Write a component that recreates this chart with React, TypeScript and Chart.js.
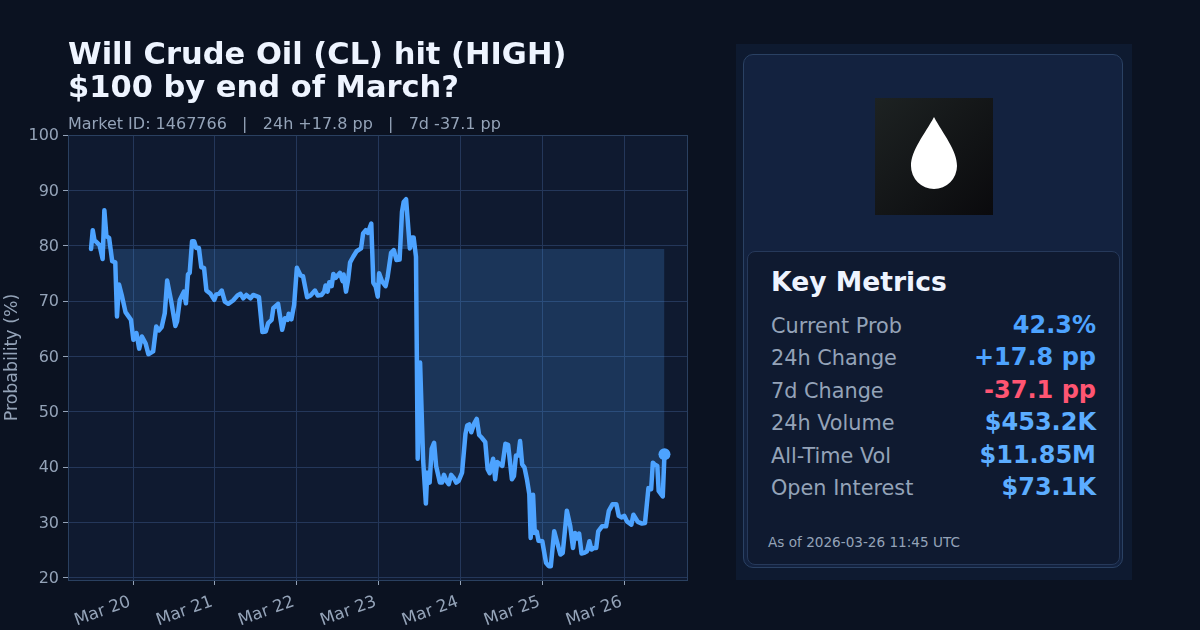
import React, { useEffect, useRef } from "react";
import { Chart, registerables } from "chart.js";

Chart.register(...registerables);

const hours = [
    -12.3, -11.8, -11.3, -10.6, -9.8, -8.9, -8.4, -7.8, -7.0, -6.1, -5.2, -4.7, -4.1, -3.2, -2.2, -0.6,
    0.1, 1.0, 1.8, 2.6, 3.7, 4.5, 5.9, 6.8, 7.6, 8.4, 9.3, 10.0, 11.2, 12.4, 12.9, 13.7, 14.9, 15.5,
    16.1, 16.6, 17.3, 17.9, 18.5, 19.3, 20.0, 20.8, 21.5, 22.7, 23.8, 24.4, 25.2, 26.0, 26.9, 27.9,
    29.3, 30.6, 31.5, 32.3, 33.2, 34.4, 35.2, 36.9, 37.9, 38.9, 39.6, 40.6, 41.1, 42.5, 43.7, 44.5,
    45.3, 45.6, 46.4, 47.2, 48.0, 49.1, 49.8, 51.0, 52.0, 53.3, 54.1, 55.2, 56.0, 56.4, 57.0, 57.5,
    58.2, 58.7, 59.4, 60.6, 61.4, 61.7, 62.4, 63.0, 63.6, 64.5, 65.5, 66.8, 67.4, 68.2, 68.8, 69.8,
    70.4, 71.1, 71.7, 72.1, 73.0, 74.0, 74.6, 75.6, 76.4, 77.2, 78.1, 78.8, 79.3, 80.0, 81.1, 81.7,
    82.2, 82.9, 83.4, 84.1, 85.0, 85.8, 86.2, 86.9, 87.5, 88.2, 88.8, 89.9, 90.5, 91.1, 91.8, 92.5,
    93.2, 94.0, 94.7, 95.4, 96.4, 97.4, 97.9, 98.5, 99.1, 99.9, 100.7, 101.4, 102.2, 103.2, 103.9,
    104.5, 105.5, 106.1, 106.7, 108.2, 109.1, 109.9, 111.0, 111.6, 112.2, 112.9, 113.4, 114.0, 114.7,
    115.4, 116.1, 116.5, 117.2, 117.7, 118.3, 118.8, 119.9, 121.0, 121.8, 122.4, 123.4, 125.2, 125.9,
    127.1, 128.1, 128.9, 129.5, 130.0, 130.7, 131.4, 132.2, 133.0, 133.7, 134.3, 135.1, 135.7, 136.3,
    137.4, 138.6, 139.4, 140.5, 141.6, 142.3, 143.2, 143.9, 144.7, 146.0, 146.6, 147.9, 149.1, 150.0,
    151.0, 151.8, 152.3, 152.8, 153.6, 154.0, 155.2, 155.7,
];

const probs = [
    79.4, 82.8, 81.0, 80.6, 80.1, 77.6, 86.4, 81.7, 81.4, 77.2, 77.0, 67.2, 73.0, 70.8, 68.0, 66.6,
    63.0, 64.2, 61.4, 63.6, 62.3, 60.4, 60.9, 65.4, 64.7, 65.3, 67.8, 73.7, 69.9, 65.5, 66.3, 70.2, 71.7, 69.6,
    74.8, 75.1, 80.8, 80.8, 79.6, 79.6, 76.1, 76.0, 71.9, 71.3, 70.2, 71.2, 71.3, 71.9, 69.9, 69.5,
    70.1, 71.0, 71.3, 70.5, 71.1, 70.5, 71.1, 70.7, 64.4, 64.5, 66.0, 66.6, 68.7, 69.5, 64.8, 66.9,
    66.6, 67.7, 66.7, 69.3, 76.0, 74.6, 74.5, 70.7, 71.0, 71.9, 71.0, 71.1, 71.7, 72.8, 71.7, 73.4,
    72.7, 74.9, 74.2, 75.1, 73.6, 74.8, 71.7, 73.8, 77.0, 78.0, 79.0, 79.5, 82.2, 82.8, 82.3, 84.0,
    73.3, 72.6, 70.8, 75.0, 73.5, 72.7, 74.4, 78.7, 79.2, 77.4, 77.5, 86.1, 87.9, 88.4, 79.5, 81.5,
    81.5, 78.0, 41.5, 58.9, 41.2, 33.4, 39.0, 37.2, 43.3, 44.4, 40.2, 37.2, 37.2, 38.6, 37.5, 36.9,
    38.6, 38.0, 37.2, 37.5, 39.0, 46.0, 47.5, 47.7, 46.3, 47.8, 48.7, 45.8, 45.3, 44.5, 39.6,
    38.9, 41.5, 37.8, 40.9, 40.2, 44.2, 44.0, 37.8, 38.4, 42.1, 42.1, 44.7, 40.5, 39.9,
    37.8, 35.1, 27.2, 35.0, 28.1, 28.3, 26.7, 26.6, 22.7, 22.1, 22.1, 28.4, 24.2, 24.5,
    32.1, 29.3, 25.4, 28.1, 27.1, 28.0, 24.4, 24.5, 24.8, 26.6, 25.1, 25.4, 25.4, 28.4,
    29.3, 29.3, 32.1, 33.3, 33.3, 31.2, 30.9, 31.2, 30.2, 29.6, 31.4, 30.1, 29.8, 29.9,
    36.2, 36.0, 40.8, 40.5, 40.2, 35.7, 34.7, 42.3,
];

const tickHours = [0, 24, 48, 72, 96, 120, 144];
const tickLabels = ["Mar 20", "Mar 21", "Mar 22", "Mar 23", "Mar 24", "Mar 25", "Mar 26"];
const yTicks = [20, 30, 40, 50, 60, 70, 80, 90, 100];

const metricLabels = ["Current Prob", "24h Change", "7d Change", "24h Volume", "All-Time Vol", "Open Interest"];
const metricValues = ["42.3%", "+17.8 pp", "-37.1 pp", "$453.2K", "$11.85M", "$73.1K"];
const metricColors = ["#4da3ff", "#4da3ff", "#ff5572", "#5cadff", "#5cadff", "#5cadff"];

const FONT = '"DejaVu Sans", sans-serif';
const LINE = "#4da3ff";
const MUTED = "#94a3b8";
const GRID = "#24375a";

const plotFrame = {
    id: "plotFrame",
    beforeDraw(chart: Chart) {
        const { ctx, chartArea: a } = chart;
        ctx.save();
        ctx.fillStyle = "#0f1a30";
        ctx.fillRect(a.left, a.top, a.right - a.left, a.bottom - a.top);
        ctx.restore();
    },
    afterDatasetsDraw(chart: Chart) {
        const { ctx, chartArea: a } = chart;
        ctx.save();
        ctx.strokeStyle = "#2a4060";
        ctx.lineWidth = 1;
        ctx.strokeRect(a.left + 0.5, a.top + 0.5, a.right - a.left, a.bottom - a.top);
        ctx.restore();
    },
};

function ProbChart() {
    const ref = useRef<HTMLCanvasElement | null>(null);

    useEffect(() => {
        if (!ref.current) return;

        const last = probs.length - 1;
        const chart = new Chart(ref.current, {
            type: "line",
            data: {
                datasets: [
                    {
                        data: hours.map((h, i) => ({ x: h, y: probs[i] })),
                        borderColor: LINE,
                        borderWidth: 4.5,
                        borderJoinStyle: "round",
                        borderCapStyle: "round",
                        backgroundColor: "rgba(77,163,255,0.2)",
                        fill: { value: probs[0] },
                        tension: 0,
                        pointRadius: (c: any) => (c.dataIndex === last ? 6 : 0),
                        pointBackgroundColor: LINE,
                        pointBorderWidth: 0,
                    },
                ],
            },
            options: {
                animation: false,
                responsive: false,
                devicePixelRatio: 1,
                layout: { padding: { top: 135, right: 0, left: 0, bottom: 0 } },
                plugins: {
                    legend: { display: false },
                    tooltip: { enabled: false },
                },
                scales: {
                    x: {
                        type: "linear",
                        min: -19.05,
                        max: 162.3,
                        afterFit: (s: any) => {
                            s.height = 50;
                            s.paddingRight = 0;
                            s.paddingLeft = 0;
                        },
                        afterBuildTicks: (s: any) => {
                            s.ticks = tickHours.map((v) => ({ value: v }));
                        },
                        border: { display: false },
                        grid: { color: GRID, lineWidth: 1, tickColor: MUTED, tickLength: 5 },
                        ticks: {
                            autoSkip: false,
                            minRotation: 20,
                            maxRotation: 20,
                            padding: 7,
                            labelOffset: -3,
                            color: MUTED,
                            font: { family: FONT, size: 16.8 },
                            callback: (v: any) => tickLabels[tickHours.indexOf(Number(v))],
                        },
                    },
                    y: {
                        min: 19.6,
                        max: 100,
                        afterFit: (s: any) => {
                            s.width = 68;
                        },
                        afterBuildTicks: (s: any) => {
                            s.ticks = yTicks.map((v) => ({ value: v }));
                        },
                        border: { display: false },
                        grid: { color: GRID, lineWidth: 1, tickColor: MUTED, tickLength: 5 },
                        ticks: {
                            padding: 4,
                            labelOffset: 1,
                            color: MUTED,
                            font: { family: FONT, size: 16 },
                        },
                        title: {
                            display: true,
                            text: "Probability (%)",
                            color: MUTED,
                            padding: { top: 2, bottom: 0 },
                            font: { family: FONT, size: 17.4 },
                        },
                    },
                },
            },
            plugins: [plotFrame],
        });

        return () => chart.destroy();
    }, []);

    return (
        <canvas
            ref={ref}
            width={693}
            height={630}
            style={{ position: "absolute", left: 0, top: 0, width: 693, height: 630 }}
        />
    );
}

function MetricsPanel() {
    return (
        <>
            <div style={{ position: "absolute", left: 736, top: 44, width: 396, height: 536, background: "#0e1a30" }} />
            <div
                style={{
                    position: "absolute",
                    left: 743,
                    top: 54,
                    width: 378,
                    height: 512,
                    background: "#13223f",
                    border: "1.5px solid #2a4163",
                    borderRadius: 10,
                }}
            />
            <div
                style={{
                    position: "absolute",
                    left: 875,
                    top: 98,
                    width: 118,
                    height: 117,
                    background: "linear-gradient(135deg, #1d2222, #0a0a0d)",
                }}
            >
                <svg width={118} height={117} style={{ display: "block" }}>
                    <path d="M59 19 C50 36 36 52 36 68 A23 23 0 0 0 82 68 C82 52 68 36 59 19 Z" fill="#fff" />
                </svg>
            </div>
            <div
                style={{
                    position: "absolute",
                    left: 747,
                    top: 251,
                    width: 371,
                    height: 312,
                    background: "#0f1a30",
                    border: "1.5px solid #26395a",
                    borderRadius: 8,
                }}
            />
            <div
                style={{
                    position: "absolute",
                    left: 771,
                    top: 266,
                    fontSize: 26.6,
                    lineHeight: "32px",
                    fontWeight: 700,
                    color: "#eef4ff",
                }}
            >
                Key Metrics
            </div>
            {metricLabels.map((label, i) => (
                <React.Fragment key={label}>
                    <div
                        style={{
                            position: "absolute",
                            left: 771,
                            top: 311 + i * 32.4,
                            fontSize: 20.8,
                            lineHeight: "30px",
                            color: "#94a3b8",
                        }}
                    >
                        {label}
                    </div>
                    <div
                        style={{
                            position: "absolute",
                            right: 104,
                            top: 310 + i * 32.4,
                            fontSize: 24,
                            lineHeight: "30px",
                            fontWeight: 700,
                            color: metricColors[i],
                        }}
                    >
                        {metricValues[i]}
                    </div>
                </React.Fragment>
            ))}
            <div
                style={{
                    position: "absolute",
                    left: 768,
                    top: 533,
                    fontSize: 13.6,
                    lineHeight: "18px",
                    color: "#94a3b8",
                }}
            >
                As of 2026-03-26 11:45 UTC
            </div>
        </>
    );
}

export default function App() {
    return (
        <div
            style={{
                position: "absolute",
                left: 0,
                top: 0,
                width: 1200,
                height: 630,
                overflow: "hidden",
                background: "#0b1221",
                fontFamily: FONT,
            }}
        >
            <style>{"body{margin:0}"}</style>
            <ProbChart />
            <div
                style={{
                    position: "absolute",
                    left: 68,
                    top: 37,
                    fontSize: 30.5,
                    lineHeight: "33px",
                    fontWeight: 700,
                    color: "#eef4ff",
                    whiteSpace: "nowrap",
                }}
            >
                Will Crude Oil (CL) hit (HIGH)
                <br />
                $100 by end of March?
            </div>
            <div
                style={{
                    position: "absolute",
                    left: 68,
                    top: 114,
                    fontSize: 16,
                    lineHeight: "20px",
                    color: MUTED,
                    whiteSpace: "pre",
                }}
            >
                {"Market ID: 1467766   |   24h +17.8 pp   |   7d -37.1 pp"}
            </div>
            <MetricsPanel />
        </div>
    );
}
